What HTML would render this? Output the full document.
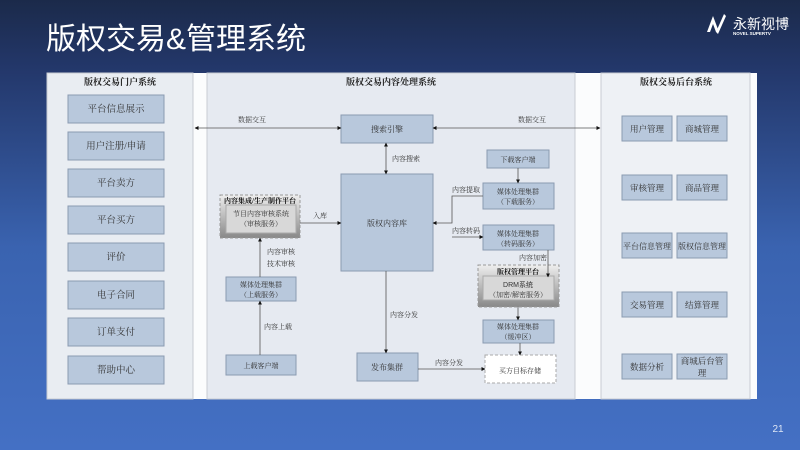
<!DOCTYPE html>
<html><head><meta charset="utf-8"><style>
body{margin:0;width:800px;height:450px;overflow:hidden;background:linear-gradient(180deg,#1b2a4a 0%,#23376a 15%,#3a63b0 55%,#4470c4 100%);font-family:"Liberation Serif","Noto Serif CJK SC",serif;position:relative}
.title{position:absolute;left:46px;top:14px;color:#fff;font:30px "Liberation Sans","Noto Sans CJK SC",sans-serif}
</style></head><body>
<div class="title">版权交易&amp;管理系统</div>
<svg width="800" height="450" style="position:absolute;left:0;top:0" font-family="Liberation Serif, Noto Serif CJK SC, serif">
<defs>
<marker id="a" viewBox="0 0 10 10" refX="9" refY="5" markerWidth="5" markerHeight="5" orient="auto-start-reverse"><path d="M0,0L10,5L0,10z" fill="#111"/></marker>
<linearGradient id="g" x1="0" y1="0" x2="0" y2="1"><stop offset="0" stop-color="#eee"/><stop offset="1" stop-color="#888"/></linearGradient>
</defs>
<g fill="#fff"><path d="M707,32 L713,16 L719,32 L716,32 L713,24 L710,32z"/><path d="M716,32 L724,14 L726,16 L718,34z"/></g>
<text x="733" y="29" fill="#fff" font-size="14" font-family="Noto Sans CJK SC, sans-serif">永新视博</text>
<text x="733" y="35" fill="#fff" font-size="4.5" font-family="Liberation Sans, sans-serif" font-weight="bold">NOVEL SUPERTV</text>
<rect x="47" y="73" width="710" height="326" fill="#fbfcfd"/>
<rect x="47" y="73" width="146" height="326" fill="#e9edf2" stroke="#c8ccd2"/>
<rect x="207" y="73" width="368" height="326" fill="#e6eaf1" stroke="#c8ccd2"/>
<rect x="601" y="73" width="149" height="326" fill="#eef1f5" stroke="#c8ccd2"/>
<g font-size="9" text-anchor="middle" fill="#222">
<text x="120" y="85" font-weight="bold">版权交易门户系统</text>
<text x="391" y="85" font-weight="bold">版权交易内容处理系统</text>
<text x="676" y="85" font-weight="bold">版权交易后台系统</text>
</g>
<g fill="#b8c8dc" stroke="#8a9bb1">
<rect x="68" y="95" width="96" height="28"/><rect x="68" y="132" width="96" height="28"/><rect x="68" y="169" width="96" height="28"/><rect x="68" y="206" width="96" height="28"/><rect x="68" y="243" width="96" height="28"/><rect x="68" y="281" width="96" height="28"/><rect x="68" y="318" width="96" height="28"/><rect x="68" y="356" width="96" height="28"/>
<rect x="622" y="116" width="50" height="25"/><rect x="677" y="116" width="50" height="25"/>
<rect x="622" y="175" width="50" height="25"/><rect x="677" y="175" width="50" height="25"/>
<rect x="622" y="233" width="50" height="25"/><rect x="677" y="233" width="50" height="25"/>
<rect x="622" y="292" width="50" height="25"/><rect x="677" y="292" width="50" height="25"/>
<rect x="622" y="354" width="50" height="25"/><rect x="677" y="354" width="50" height="25"/>
<rect x="341" y="115" width="92" height="28"/><rect x="341" y="174" width="92" height="97"/>
<rect x="487" y="150" width="62" height="18"/><rect x="483" y="183" width="71" height="26"/><rect x="483" y="225" width="71" height="25"/>
<rect x="483" y="320" width="71" height="23"/><rect x="357" y="353" width="61" height="28"/>
<rect x="226" y="355" width="70" height="20"/><rect x="226" y="277" width="70" height="24"/>
</g>
<g font-size="9.5" text-anchor="middle" fill="#333">
<text x="116" y="112">平台信息展示</text><text x="116" y="149">用户注册/申请</text><text x="116" y="186">平台卖方</text><text x="116" y="223">平台买方</text><text x="116" y="260">评价</text><text x="116" y="298">电子合同</text><text x="116" y="335">订单支付</text><text x="116" y="373">帮助中心</text>
</g>
<g font-size="8.5" text-anchor="middle" fill="#333">
<text x="647" y="132">用户管理</text><text x="702" y="132">商城管理</text>
<text x="647" y="191">审核管理</text><text x="702" y="191">商品管理</text>
<text x="647" y="249" font-size="8">平台信息管理</text><text x="702" y="249" font-size="8">版权信息管理</text>
<text x="647" y="308">交易管理</text><text x="702" y="308">结算管理</text>
<text x="647" y="370">数据分析</text><text x="702" y="364">商城后台管</text><text x="702" y="376">理</text>
</g>
<rect x="220" y="195" width="80" height="43" fill="url(#g)" stroke="#999" stroke-dasharray="3,2"/>
<rect x="226" y="205" width="70" height="28" fill="#d8d8d8" stroke="#aaa"/>
<rect x="478" y="265" width="81" height="42" fill="url(#g)" stroke="#999" stroke-dasharray="3,2"/>
<rect x="483" y="276" width="71" height="24" fill="#d8d8d8" stroke="#aaa"/>
<rect x="485" y="355" width="71" height="28" fill="#fff" stroke="#aaa" stroke-dasharray="3,2"/>
<g font-size="7" text-anchor="middle" fill="#333">
<text x="387" y="132" font-size="8">搜索引擎</text><text x="387" y="226" font-size="8">版权内容库</text>
<text x="518" y="162">下载客户端</text>
<text x="518" y="194">媒体处理集群</text><text x="518" y="204">（下载服务）</text>
<text x="518" y="236">媒体处理集群</text><text x="518" y="246">（转码服务）</text>
<text x="518" y="329">媒体处理集群</text><text x="518" y="339">（缓冲区）</text>
<text x="387" y="370" font-size="8">发布集群</text><text x="261" y="368">上载客户端</text>
<text x="261" y="287">媒体处理集群</text><text x="261" y="297">（上载服务）</text>
<text x="261" y="216">节目内容审核系统</text><text x="261" y="226">（审核服务）</text>
<text x="260" y="203" font-weight="bold" fill="#111">内容集成/生产制作平台</text>
<text x="518" y="274" font-weight="bold" fill="#111">版权管理平台</text>
<text x="518" y="287" font-family="Liberation Sans, Noto Sans CJK SC, sans-serif">DRM系统</text><text x="518" y="297">（加密/解密服务）</text>
<text x="520" y="373">买方目标存储</text>
<text x="252" y="122">数据交互</text><text x="532" y="122">数据交互</text>
<text x="406" y="161">内容搜索</text><text x="320" y="218">入库</text>
<text x="466" y="192">内容提取</text><text x="466" y="233">内容转码</text><text x="533" y="260">内容加密</text>
<text x="281" y="254">内容审核</text><text x="281" y="266">技术审核</text>
<text x="278" y="329">内容上载</text><text x="404" y="317">内容分发</text><text x="449" y="365">内容分发</text>
</g>
<g stroke="#555" stroke-width="0.8" fill="none">
<line x1="195" y1="128" x2="341" y2="128" marker-start="url(#a)" marker-end="url(#a)"/>
<line x1="433" y1="128" x2="600" y2="128" marker-start="url(#a)" marker-end="url(#a)"/>
<line x1="386" y1="143" x2="386" y2="174" marker-start="url(#a)" marker-end="url(#a)"/>
<line x1="518" y1="168" x2="518" y2="183" marker-end="url(#a)"/>
<polyline points="483,196 452,196 452,223 433,223" marker-end="url(#a)"/>
<line x1="452" y1="237" x2="483" y2="237" marker-end="url(#a)"/>
<polyline points="548,250 548,277" marker-end="url(#a)"/>
<line x1="518" y1="307" x2="518" y2="320" marker-end="url(#a)"/>
<line x1="520" y1="343" x2="520" y2="355" marker-end="url(#a)"/>
<line x1="300" y1="223" x2="341" y2="223" marker-end="url(#a)"/>
<line x1="386" y1="271" x2="386" y2="353" marker-end="url(#a)"/>
<line x1="418" y1="369" x2="485" y2="369" marker-end="url(#a)"/>
<line x1="260" y1="355" x2="260" y2="301" marker-end="url(#a)"/>
<line x1="260" y1="277" x2="260" y2="238" marker-end="url(#a)"/>
</g>
<text x="778" y="432" fill="#dde6f5" font-size="10" text-anchor="middle" font-family="Liberation Sans, sans-serif">21</text>
</svg>
</body></html>
